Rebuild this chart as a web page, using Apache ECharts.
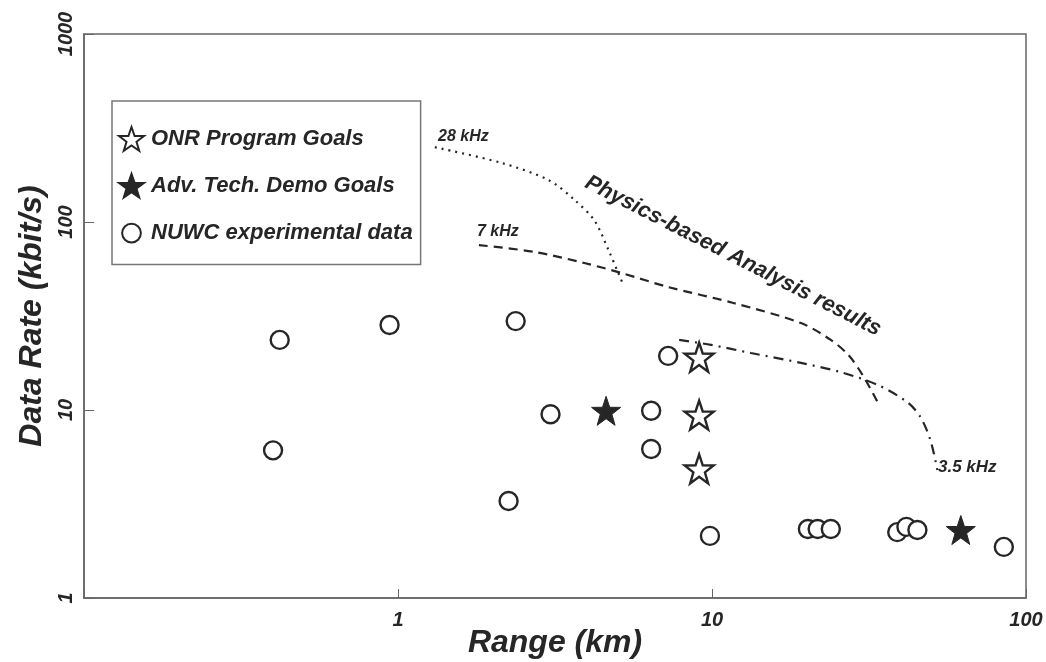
<!DOCTYPE html>
<html>
<head>
<meta charset="utf-8">
<script src="https://cdn.jsdelivr.net/npm/echarts@6/dist/echarts.min.js"></script>
<style>
	html, body { margin: 0; padding: 0; background: #fff; }
	#chart { width: 1046px; height: 662px; }
</style>
</head>
<body>
<div id="chart"></div>
<script>
	// NUWC experimental data (range km, data rate kbit/s)
	var nuwcRange = [0.42, 0.40, 0.94, 2.37, 2.25, 3.06, 6.4, 6.4, 7.25, 9.85, 20.2, 21.7, 23.9, 38.9, 41.6, 45.1, 85];
	var nuwcRate = [23.6, 6.1, 28.3, 29.7, 3.28, 9.5, 9.9, 6.2, 19.4, 2.14, 2.33, 2.33, 2.33, 2.24, 2.39, 2.30, 1.87];
	// ONR program goals
	var onrRange = [9.1, 9.1, 9.1];
	var onrRate = [19.1, 9.4, 4.86];
	// Adv. Tech. Demo goals
	var atdRange = [4.6, 62];
	var atdRate = [9.9, 2.3];
	// physics-based analysis curves
	var f28Range = [1.31, 2.14, 3.02, 3.65, 4.22, 4.68, 5.03, 5.22];
	var f28Rate = [250, 206, 167, 131, 102, 71, 53.5, 46.3];
	var f7Range = [1.81, 2.72, 3.92, 5.14, 7.25, 11.7, 19.2, 23.9, 27.2, 30.2, 33.7];
	var f7Rate = [75.4, 69.3, 60.5, 53.6, 45.1, 37.1, 29.0, 23.6, 19.6, 15.3, 11.0];
	var f35Range = [7.86, 9.93, 13.3, 19.2, 25.7, 33.7, 41.9, 46.1, 49.6, 52.2];
	var f35Rate = [23.6, 22.2, 20.1, 17.8, 15.9, 13.6, 11.0, 9.18, 6.92, 4.80];

	var xTicks = [1, 10, 100];
	var yTicks = [1, 10, 100, 1000];

	var ink = '#262626';
	var fam = '"Liberation Sans", Arial, sans-serif';
	var starPath = 'path://M50,2 L61.8,36.2 L97.6,36.6 L69,58.2 L79.4,92.6 L50,72 L20.6,92.6 L31,58.2 L2.4,36.6 L38.2,36.2 Z';
	// smaller circle inside the legend icon box
	var legendCircle = 'path://M0,0 M24,24 M21,12 A9,9 0 1 1 3,12 A9,9 0 1 1 21,12 Z';

	function pairs(xs, ys) {
		return xs.map(function (x, i) { return [x, ys[i]]; });
	}
	function tickLabel(list) {
		return function (v) {
			for (var i = 0; i < list.length; i++) {
				if (Math.abs(v - list[i]) / list[i] < 1e-6) return String(list[i]);
			}
			return '';
		};
	}

	var chart = echarts.init(document.getElementById('chart'));
	var option = {
		animation: false,
		backgroundColor: '#fff',
		grid: {
			left: 84, right: 20, top: 34, bottom: 64,
			outerBoundsMode: 'none', containLabel: false,
			show: true, borderColor: '#666', borderWidth: 1.5
		},
		legend: {
			data: [
				{ name: 'ONR Program Goals' },
				{ name: 'Adv. Tech. Demo Goals' },
				{ name: 'NUWC experimental data', icon: legendCircle }
			],
			orient: 'vertical',
			left: 112, top: 101,
			padding: [25, 8, 18, 6],
			itemGap: 21,
			itemWidth: 25, itemHeight: 25,
			backgroundColor: '#fff',
			borderColor: '#777', borderWidth: 1.5,
			textStyle: {
				fontFamily: fam, fontSize: 22, fontStyle: 'italic', fontWeight: 'bold',
				color: ink, padding: [0, 0, 0, 2]
			}
		},
		xAxis: {
			type: 'log', logBase: 10, min: 0.1, max: 100,
			name: 'Range (km)', nameLocation: 'middle', nameGap: 29, nameMoveOverlap: false,
			nameTextStyle: { fontFamily: fam, fontSize: 32, fontStyle: 'italic', fontWeight: 'bold', color: ink },
			axisLine: { lineStyle: { color: '#666', width: 1.5 } },
			axisTick: { inside: true, length: 9, lineStyle: { color: '#666' } },
			minorTick: { show: false },
			splitLine: { show: false },
			axisLabel: {
				margin: 12, formatter: tickLabel(xTicks),
				fontFamily: fam, fontSize: 20, fontStyle: 'italic', fontWeight: 'bold', color: ink
			}
		},
		yAxis: {
			type: 'log', logBase: 10, min: 1, max: 1000,
			name: 'Data Rate (kbit/s)', nameLocation: 'middle', nameGap: 36,
			nameTextStyle: { fontFamily: fam, fontSize: 32, fontStyle: 'italic', fontWeight: 'bold', color: ink },
			axisLine: { lineStyle: { color: '#666', width: 1.5 } },
			axisTick: { inside: true, length: 10, lineStyle: { color: '#666' } },
			minorTick: { show: false },
			splitLine: { show: false },
			axisLabel: {
				rotate: 90, margin: 8, formatter: tickLabel(yTicks),
				fontFamily: fam, fontSize: 20, fontStyle: 'italic', fontWeight: 'bold', color: ink
			}
		},
		series: [
			{
				name: '28 kHz', type: 'line', data: pairs(f28Range, f28Rate),
				smooth: 0.3, showSymbol: false, silent: true,
				lineStyle: { color: ink, width: 2.2, type: [2, 5] }
			},
			{
				name: '7 kHz', type: 'line', data: pairs(f7Range, f7Rate),
				smooth: 0.3, showSymbol: false, silent: true,
				lineStyle: { color: ink, width: 2.2, type: [9, 6] }
			},
			{
				name: '3.5 kHz', type: 'line', data: pairs(f35Range, f35Rate),
				smooth: 0.3, showSymbol: false, silent: true,
				lineStyle: { color: ink, width: 2.2, type: [10, 6, 2, 6] }
			},
			{
				name: 'NUWC experimental data', type: 'scatter', data: pairs(nuwcRange, nuwcRate),
				symbol: 'circle', symbolSize: 18,
				itemStyle: { color: '#fff', borderColor: ink, borderWidth: 2.4, opacity: 1 }
			},
			{
				name: 'ONR Program Goals', type: 'scatter', data: pairs(onrRange, onrRate),
				symbol: starPath, symbolSize: 29,
				itemStyle: { color: '#fff', borderColor: ink, borderWidth: 2.4, opacity: 1 }
			},
			{
				name: 'Adv. Tech. Demo Goals', type: 'scatter', data: pairs(atdRange, atdRate),
				symbol: starPath, symbolSize: 29,
				itemStyle: { color: ink, borderColor: ink, borderWidth: 1, opacity: 1 }
			}
		],
		graphic: [
			{
				type: 'text', x: 438, y: 145,
				style: { text: '28 kHz', font: 'italic bold 16px ' + fam, fill: ink, textVerticalAlign: 'bottom' }
			},
			{
				type: 'text', x: 477, y: 240,
				style: { text: '7 kHz', font: 'italic bold 16px ' + fam, fill: ink, textVerticalAlign: 'bottom' }
			},
			{
				type: 'text', x: 938, y: 476,
				style: { text: '3.5 kHz', font: 'italic bold 17px ' + fam, fill: ink, textVerticalAlign: 'bottom' }
			},
			{
				type: 'text', x: 733, y: 256, rotation: -27 * Math.PI / 180,
				style: {
					text: 'Physics-based Analysis results', font: 'italic bold 22px ' + fam, fill: ink,
					textAlign: 'center', textVerticalAlign: 'middle'
				}
			}
		]
	};
	chart.setOption(option);
</script>
</body>
</html>
